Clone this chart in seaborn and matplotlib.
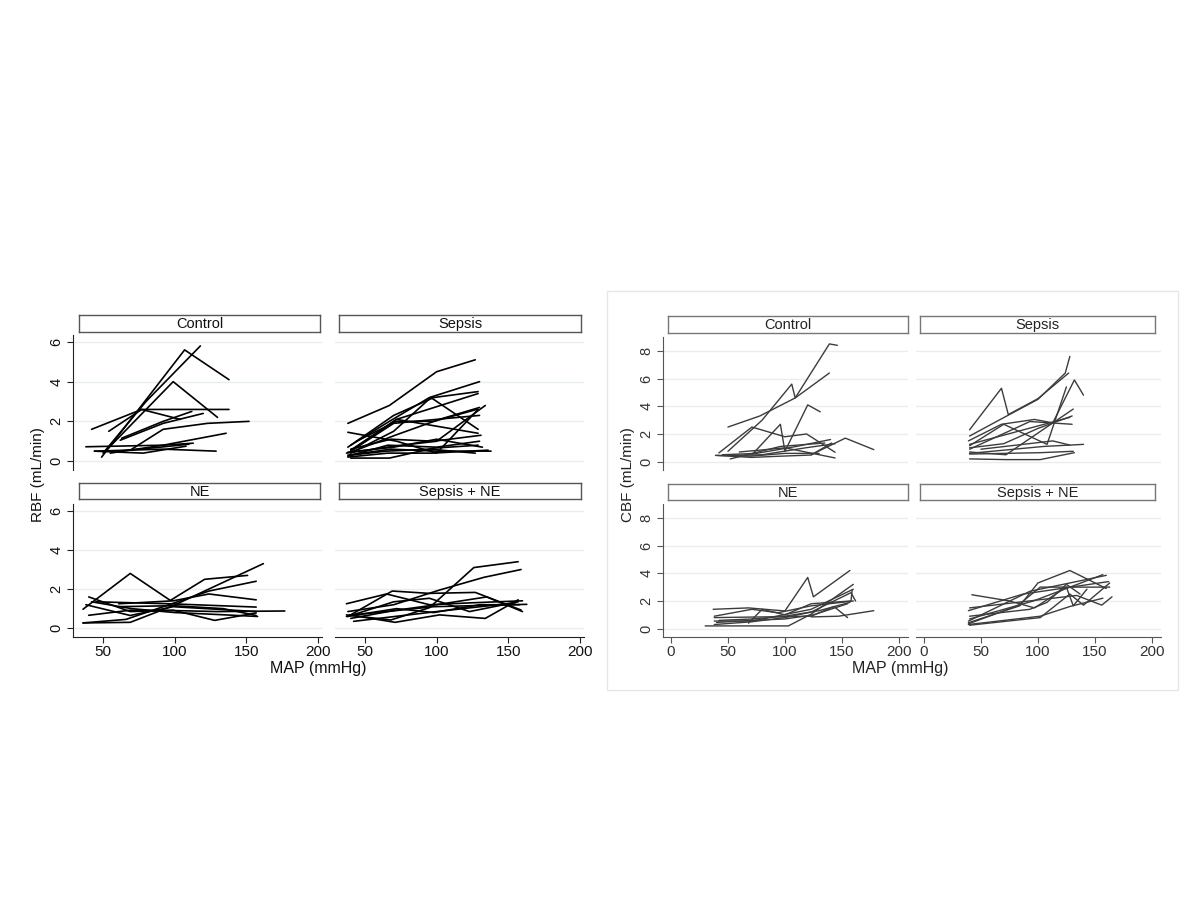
import numpy as np
import pandas as pd
import seaborn as sns
import matplotlib.pyplot as plt
from matplotlib.patches import Rectangle

# facet names
groups = ["Control", "Sepsis", "NE", "Sepsis + NE"]

# RBF panel: one list per animal, MAP (mmHg) and flow (mL/min)
rbf_control_map = [[49, 107, 138], [50, 80, 118], [51, 99, 130], [42, 77, 138],
                   [54, 77, 104], [63, 92, 112], [62, 92, 120], [69, 92, 123, 152],
                   [38, 92, 113], [44, 78, 108], [44, 92, 129], [55, 92, 136],
                   [60, 90, 110]]
rbf_control_flow = [[0.2, 5.6, 4.1], [0.4, 3.0, 5.8], [0.45, 4.0, 2.2], [1.6, 2.6, 2.6],
                    [1.5, 2.6, 2.1], [1.15, 2.0, 2.5], [1.05, 1.9, 2.4], [0.55, 1.6, 1.9, 2.0],
                    [0.72, 0.8, 0.9], [0.5, 0.4, 0.75], [0.5, 0.6, 0.5], [0.4, 0.8, 1.4],
                    [0.5, 0.7, 0.85]]

rbf_sepsis_map = [[38, 67, 100, 127], [40, 67, 95, 130], [38, 70, 98, 129], [40, 72, 129],
                  [38, 72, 100, 129], [37, 70, 100, 134], [42, 72, 129], [40, 67, 98, 129],
                  [38, 68, 100, 138], [40, 70, 100, 130], [40, 70, 96, 129], [38, 66, 100, 130],
                  [40, 68, 98, 131], [38, 70, 100, 132], [44, 72, 98, 128], [40, 65, 95, 127],
                  [42, 71, 102, 130], [38, 66, 97, 136]]
rbf_sepsis_flow = [[1.9, 2.8, 4.5, 5.1], [0.8, 2.0, 3.2, 4.0], [0.7, 2.3, 3.2, 3.5], [0.55, 2.1, 3.4],
                   [1.45, 1.0, 0.4, 2.6], [0.4, 0.75, 1.0, 2.8], [0.6, 2.1, 1.4], [0.15, 0.15, 0.65, 0.8],
                   [0.3, 0.6, 0.5, 0.5], [0.5, 1.9, 2.1, 2.3], [0.4, 1.5, 3.2, 1.6], [0.25, 0.8, 0.7, 1.0],
                   [0.6, 1.1, 1.0, 1.3], [0.45, 0.7, 1.1, 0.7], [1.0, 2.0, 2.0, 2.6], [0.3, 0.5, 0.6, 0.4],
                   [0.5, 1.3, 2.1, 2.7], [0.2, 0.4, 0.4, 0.55]]

rbf_ne_map = [[36, 69, 97, 121, 151], [36, 69, 99, 162], [36, 66, 124, 157],
              [40, 69, 99, 128, 157], [38, 69, 99, 157], [40, 69, 100, 130, 177],
              [61, 99, 124, 157], [45, 96, 157], [61, 99, 134, 157], [42, 70, 100, 130, 158]]
rbf_ne_flow = [[0.97, 2.8, 1.42, 2.5, 2.7], [0.27, 0.3, 1.15, 3.3], [0.27, 0.45, 1.9, 2.4],
               [1.6, 0.85, 0.92, 0.4, 0.78], [1.2, 0.65, 1.1, 0.85], [0.66, 0.92, 0.9, 0.85, 0.88],
               [1.25, 1.4, 1.75, 1.45], [1.35, 1.25, 1.08], [1.1, 1.15, 1.0, 0.65], [1.35, 1.0, 0.8, 0.7, 0.6]]

rbf_sepsis_ne_map = [[37, 68, 95, 126, 157], [38, 70, 102, 133, 159], [37, 65, 95, 125, 160],
                     [38, 69, 95, 127, 159], [38, 70, 95, 123, 157], [39, 71, 102, 134, 157],
                     [42, 100, 155], [42, 98, 163], [40, 70, 100, 135, 160], [37, 72, 98, 130, 158]]
rbf_sepsis_ne_flow = [[0.68, 0.42, 1.05, 3.1, 3.4], [0.85, 1.2, 1.95, 2.6, 3.0], [1.25, 1.75, 1.2, 1.3, 1.4],
                      [0.6, 1.9, 1.78, 1.83, 0.93], [0.6, 1.35, 1.53, 0.85, 1.35], [0.68, 0.3, 0.68, 0.5, 1.45],
                      [0.35, 0.85, 1.3], [0.68, 1.1, 1.22], [0.5, 0.9, 1.2, 1.6, 0.85], [0.6, 1.0, 0.8, 1.2, 1.2]]

# CBF panel
cbf_control_map = [[50, 78, 109, 139], [50, 80, 106, 109, 139, 146], [71, 96, 100, 120, 131],
                   [42, 71, 100, 119, 144], [123, 153, 178], [39, 71, 94, 123, 141],
                   [52, 96, 135], [45, 75, 110, 140], [40, 70, 100, 130], [60, 100, 144],
                   [50, 80, 118, 144]]
cbf_control_flow = [[2.5, 3.3, 4.6, 6.4], [0.75, 3.0, 5.6, 4.6, 8.5, 8.4], [0.5, 2.7, 0.75, 4.1, 3.6],
                    [0.63, 2.5, 1.8, 2.0, 0.68], [0.5, 1.7, 0.87], [0.46, 0.31, 0.39, 0.48, 1.35],
                    [0.2, 1.1, 1.35], [0.5, 0.6, 1.1, 1.6], [0.45, 0.4, 0.6, 0.6], [0.7, 1.0, 0.27],
                    [0.45, 0.5, 1.0, 1.3]]

cbf_sepsis_map = [[40, 68, 74, 100, 127], [40, 67, 100, 124, 128], [39, 68, 97, 113, 132, 140],
                  [40, 70, 108, 125], [40, 72, 131], [40, 93, 130], [40, 105, 140],
                  [40, 102, 131], [40, 72, 102, 132], [40, 128], [50, 113, 128],
                  [40, 70, 100, 130]]
cbf_sepsis_flow = [[2.3, 5.3, 3.4, 4.55, 6.4], [1.85, 3.05, 4.5, 6.4, 7.6], [1.5, 2.7, 3.05, 2.8, 5.9, 4.8],
                   [1.15, 2.7, 1.25, 5.4], [0.7, 0.5, 3.8], [0.9, 2.9, 2.7], [0.6, 1.1, 1.25],
                   [0.55, 0.65, 0.75], [0.2, 0.15, 0.15, 0.65], [1.25, 3.2], [0.9, 1.5, 1.2],
                   [1.0, 1.3, 2.4, 3.3]]

cbf_ne_map = [[37, 68, 100, 120, 125, 157], [30, 68, 103, 123, 160], [38, 71, 123, 160],
              [38, 71, 94, 123, 160], [68, 80, 100, 123, 158, 159], [38, 123, 143, 155],
              [123, 147, 178], [38, 71, 100, 123, 158, 162], [42, 71, 100, 130, 157],
              [40, 70, 100, 125, 155]]
cbf_ne_flow = [[1.4, 1.5, 1.28, 3.7, 2.3, 4.2], [0.2, 0.2, 0.2, 1.05, 3.2], [0.55, 0.55, 1.4, 2.85],
               [0.9, 1.4, 1.15, 1.65, 2.0], [0.4, 1.4, 1.0, 1.8, 2.0, 2.8], [0.8, 0.9, 1.6, 0.8],
               [0.85, 0.9, 1.3], [0.3, 0.5, 0.8, 1.2, 2.6, 2.0], [0.6, 0.7, 0.9, 1.3, 1.9],
               [0.45, 0.6, 0.7, 1.0, 1.8]]

cbf_sepsis_ne_map = [[42, 75, 97, 125, 131, 143], [39, 102, 128, 157], [39, 84, 100, 128, 160],
                     [39, 93, 160], [39, 87, 162], [40, 96, 157], [39, 82, 102, 128, 163],
                     [40, 102, 128, 140, 163], [40, 134, 156, 165], [40, 93, 108, 125, 137]]
cbf_sepsis_ne_flow = [[2.45, 2.0, 1.5, 3.0, 1.65, 2.85], [0.3, 0.9, 1.6, 2.2], [0.43, 1.65, 3.3, 4.2, 2.9],
                      [0.55, 2.7, 3.85], [1.3, 2.5, 3.4], [0.7, 2.0, 3.9], [0.35, 1.65, 3.0, 3.0, 3.0],
                      [0.25, 0.8, 2.5, 1.7, 3.3], [1.5, 2.4, 1.7, 2.3], [0.9, 1.4, 1.9, 3.2, 2.5]]

rbf_maps = [rbf_control_map, rbf_sepsis_map, rbf_ne_map, rbf_sepsis_ne_map]
rbf_flows = [rbf_control_flow, rbf_sepsis_flow, rbf_ne_flow, rbf_sepsis_ne_flow]
cbf_maps = [cbf_control_map, cbf_sepsis_map, cbf_ne_map, cbf_sepsis_ne_map]
cbf_flows = [cbf_control_flow, cbf_sepsis_flow, cbf_ne_flow, cbf_sepsis_ne_flow]


def to_long(maps, flows):
    rows = []
    for g, mp, fl in zip(groups, maps, flows):
        for i, (xs, ys) in enumerate(zip(mp, fl)):
            for step, (x, y) in enumerate(zip(xs, ys)):
                rows.append({"group": g, "animal": i, "step": step, "MAP": x, "flow": y})
    return pd.DataFrame(rows)


rbf = to_long(rbf_maps, rbf_flows)
cbf = to_long(cbf_maps, cbf_flows)

sns.set_style("white")
plt.rcParams["font.family"] = ["Liberation Sans", "DejaVu Sans"]

W, H = 1200, 900
fig = plt.figure(figsize=(12, 9), dpi=100)


def px_axes(left, top, right, bottom):
    return fig.add_axes([left / W, 1 - bottom / H, (right - left) / W, (bottom - top) / H])


def strip(left, top, right, bottom, label, ec, tc):
    sa = px_axes(left, top, right, bottom)
    sa.set_xticks([])
    sa.set_yticks([])
    for s in sa.spines.values():
        s.set_color(ec)
        s.set_linewidth(1.0)
    sa.text(0.5, 0.45, label, ha="center", va="center", fontsize=10.5, color=tc,
            transform=sa.transAxes)


def facet(df, g, box, xlim, ylim, xticks, yticks, show_x, show_y, line_c, axis_c, txt_c, grid_c, lw):
    ax = px_axes(*box)
    sub = df[df.group == g].sort_values(["animal", "step"])
    sns.lineplot(data=sub, x="MAP", y="flow", units="animal", estimator=None, sort=False,
                 color=line_c, lw=lw, ax=ax, legend=False)
    ax.set_xlim(*xlim)
    ax.set_ylim(*ylim)
    ax.set_yticks(yticks)
    ax.set_xticks(xticks)
    ax.yaxis.grid(True, color=grid_c, lw=1.0)
    ax.xaxis.grid(False)
    ax.set_axisbelow(True)
    ax.set_xlabel("")
    ax.set_ylabel("")
    for s in ["top", "right"]:
        ax.spines[s].set_visible(False)
    ax.spines["left"].set_visible(show_y)
    ax.spines["bottom"].set_visible(show_x)
    ax.spines["left"].set_color(axis_c)
    ax.spines["bottom"].set_color(axis_c)
    ax.tick_params(axis="y", left=show_y, labelleft=show_y, direction="out", length=4,
                   color=axis_c, labelcolor=txt_c, labelsize=10.5, pad=3)
    ax.tick_params(axis="x", bottom=show_x, labelbottom=show_x, direction="out", length=4,
                   color=axis_c, labelcolor=txt_c, labelsize=11, pad=1.5)
    for t in ax.get_yticklabels():
        t.set_rotation(90)
        t.set_va("center")
    return ax


# left panel: RBF
rbf_boxes = [(73, 335, 322, 470), (335, 335, 584, 470), (73, 504, 322, 637), (335, 504, 584, 637)]
rbf_strips = [(79, 315, 320, 332), (339, 315, 581, 332), (79, 483, 320, 499), (339, 483, 581, 499)]
for k, g in enumerate(groups):
    facet(rbf, g, rbf_boxes[k], (29, 203), (-0.45, 6.35), [50, 100, 150, 200], [0, 2, 4, 6],
          show_x=k >= 2, show_y=k % 2 == 0, line_c="black", axis_c="#222222",
          txt_c="#111111", grid_c="#e6eeee", lw=1.2)
    strip(*rbf_strips[k], g, "#555555", "#111111")

fig.text(38 / W, 1 - 475 / H, "RBF (mL/min)", rotation=90, ha="center", va="center",
         fontsize=11, color="#111111")
fig.text(318 / W, 1 - 669 / H, "MAP (mmHg)", ha="center", va="center", fontsize=11.5, color="#111111")

# right panel: CBF
cbf_boxes = [(663, 337, 908, 470), (916, 337, 1161, 470), (663, 504, 908, 637), (916, 504, 1161, 637)]
cbf_strips = [(668, 316, 908, 333), (920, 316, 1155, 333), (668, 484, 908, 500), (920, 484, 1155, 500)]
for k, g in enumerate(groups):
    facet(cbf, g, cbf_boxes[k], (-7, 208), (-0.6, 9.0), [0, 50, 100, 150, 200], [0, 2, 4, 6, 8],
          show_x=k >= 2, show_y=k % 2 == 0, line_c="#3c3c3c", axis_c="#555555",
          txt_c="#333333", grid_c="#ececec", lw=1.0)
    strip(*cbf_strips[k], g, "#777777", "#222222")

fig.text(628 / W, 1 - 475 / H, "CBF (mL/min)", rotation=90, ha="center", va="center",
         fontsize=11, color="#222222")
fig.text(900 / W, 1 - 669 / H, "MAP (mmHg)", ha="center", va="center", fontsize=11.5, color="#222222")

# light frame round the right-hand graph
fig.patches.append(Rectangle((607 / W, 1 - 690 / H), (1178 - 607) / W, (690 - 291) / H,
                             transform=fig.transFigure, fill=False, ec="#e6e6e6", lw=1.0))

fig.savefig("out.png", dpi=100, facecolor="white")
